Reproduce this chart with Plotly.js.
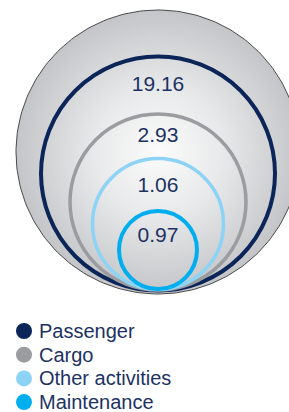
<!DOCTYPE html>
<html>
<head>
<meta charset="utf-8">
<script src="https://cdn.plot.ly/plotly-3.0.1.min.js"></script>
<style>html,body{margin:0;padding:0;background:#fff;}#chart{width:289px;height:412px;}</style>
</head>
<body>
<div id="chart"></div>
<script>
// ---- data ----
var categories = ['Passenger', 'Cargo', 'Other activities', 'Maintenance'];
var values = [19.16, 2.93, 1.06, 0.97];
var valueLabels = ['19.16', '2.93', '1.06', '0.97'];
var colors = ['#0b2559', '#9b9c9f', '#8dd3f5', '#00aeef'];

// ---- layout geometry (pixels, not data) ----
var CX = 158;
var outer = {cy: 152, r: 142};
var ringCY = [173.5, 202, 224, 250];
var ringR = [117, 88, 65.5, 39];
var ringW = [4, 3.5, 3.5, 4];
var labelY = [85.5, 136.7, 186.7, 237];
var legendY0 = 331, legendStep = 23.7;
var textColor = '#1c3263';

function circlePts(cx, cy, r, n) {
  var xs = [], ys = [];
  for (var i = 0; i <= n; i++) {
    var a = 2 * Math.PI * i / n;
    xs.push(cx + r * Math.cos(a));
    ys.push(cy + r * Math.sin(a));
  }
  return {x: xs, y: ys};
}

var traces = [];
var op = circlePts(CX, outer.cy, outer.r, 240);
traces.push({
  type: 'scatter', mode: 'lines', x: op.x, y: op.y,
  fill: 'toself',
  fillgradient: {type: 'radial', colorscale: [[0, '#fbfbfb'], [0.45, '#e8e9ea'], [1, '#c4c5c8']]},
  line: {color: '#4a4a4a', width: 1},
  hoverinfo: 'skip', showlegend: false
});

var shapes = [];
categories.forEach(function (c, i) {
  shapes.push({
    type: 'circle', xref: 'x', yref: 'y',
    x0: CX - ringR[i], x1: CX + ringR[i],
    y0: ringCY[i] - ringR[i], y1: ringCY[i] + ringR[i],
    line: {color: colors[i], width: ringW[i]}, fillcolor: 'rgba(0,0,0,0)'
  });
});

// value labels
traces.push({
  type: 'scatter', mode: 'text',
  x: categories.map(function () { return CX; }),
  y: labelY,
  text: values.map(function (v, i) { return valueLabels[i]; }),
  textposition: 'middle center',
  textfont: {family: 'Liberation Sans, Arial, sans-serif', size: 21, color: textColor},
  hoverinfo: 'skip', showlegend: false, cliponaxis: false
});

// legend markers
var legYs = categories.map(function (c, i) { return legendY0 + i * legendStep; });
traces.push({
  type: 'scatter', mode: 'markers',
  x: categories.map(function () { return 24; }),
  y: legYs,
  marker: {size: 16, color: colors, line: {width: 0}},
  hoverinfo: 'skip', showlegend: false, cliponaxis: false
});

var annotations = categories.map(function (c, i) {
  return {
    x: 37, y: legYs[i], xref: 'x', yref: 'y', xanchor: 'left', yanchor: 'middle',
    text: c, showarrow: false,
    font: {family: 'Liberation Sans, Arial, sans-serif', size: 20, color: textColor}
  };
});

var layout = {
  width: 289, height: 412,
  margin: {l: 0, r: 0, t: 0, b: 0},
  paper_bgcolor: '#ffffff', plot_bgcolor: 'rgba(0,0,0,0)',
  xaxis: {range: [0, 289], visible: false, fixedrange: true},
  yaxis: {range: [412, 0], visible: false, fixedrange: true},
  shapes: shapes,
  annotations: annotations,
  showlegend: false
};

Plotly.newPlot('chart', traces, layout, {staticPlot: true, displayModeBar: false});
</script>
</body>
</html>
